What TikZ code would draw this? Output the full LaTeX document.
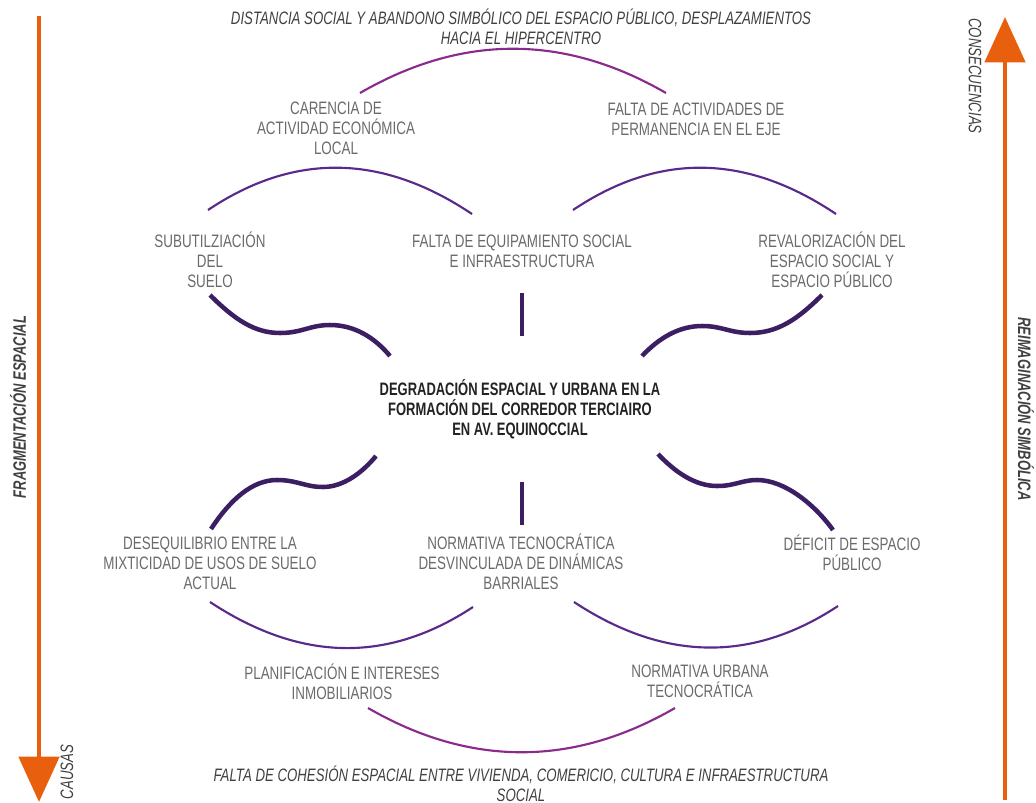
\documentclass[tikz,border=0pt]{standalone}
\usepackage{fontspec}
\setmainfont{Liberation Sans}[FakeStretch=0.745, ItalicFeatures={FakeStretch=0.735}, BoldFeatures={FakeStretch=0.72}, BoldItalicFeatures={FakeStretch=0.72}]
\usetikzlibrary{arrows.meta}
\definecolor{orangeC}{HTML}{E8600E}
\definecolor{grayT}{HTML}{6A6A6A}
\definecolor{darkT}{HTML}{404040}
\definecolor{centT}{HTML}{222222}
\definecolor{waveC}{HTML}{3C1F63}
\definecolor{arcC}{HTML}{5A2A8A}
\definecolor{outerC}{HTML}{8A2A8C}
\begin{document}
\begin{tikzpicture}[x=0.75pt,y=-0.75pt,
  lbl/.style={font=\fontsize{13.5}{15}\selectfont, text=grayT, align=center, inner sep=0pt, anchor=base},
  itl/.style={lbl, text=darkT, font=\fontsize{13.5}{15}\selectfont\itshape},
  ctr/.style={lbl, text=centT, font=\fontsize{13.5}{15}\selectfont\bfseries},
  side/.style={inner sep=0pt, text=darkT, font=\fontsize{13.5}{15}\selectfont\bfseries\itshape},
  sidel/.style={inner sep=0pt, text=darkT, font=\fontsize{13.5}{15}\selectfont\itshape},
  axisarrow/.style={draw=orangeC, line width=3.6pt, -{Triangle[length=34pt,width=30pt]}},
  wave/.style={draw=waveC, line width=3.4pt},
  bar/.style={draw=waveC, line width=3pt},
  arcin/.style={draw=arcC, line width=1.6pt},
  arcout/.style={draw=outerC, line width=1.6pt}]
\useasboundingbox (0,0) rectangle (1036,803);

% axes
\coordinate (lA) at (39,16);
\coordinate (lB) at (39,802);
\coordinate (rA) at (1005,800);
\coordinate (rB) at (1005,17);
\draw[axisarrow] (lA) -- (lB);
\draw[axisarrow] (rA) -- (rB);

\node[side, rotate=90] (fragm) at (18,407) {FRAGMENTACIÓN ESPACIAL};
\node[side, rotate=-90] (reimag) at (1026,409) {REIMAGINACIÓN SIMBÓLICA};
\node[sidel, rotate=-90] (consec) at (975,76) {CONSECUENCIAS};
\node[sidel, rotate=90] (causas) at (67,772) {CAUSAS};

% texts (base anchor = baseline of last line)
\node[itl] (ttop) at (521,44.5) {DISTANCIA SOCIAL Y ABANDONO SIMBÓLICO DEL ESPACIO PÚBLICO, DESPLAZAMIENTOS\\HACIA EL HIPERCENTRO};
\node[lbl] (carencia) at (336,154.5) {CARENCIA DE\\ACTIVIDAD ECONÓMICA\\LOCAL};
\node[lbl] (faltaact) at (696,135) {FALTA DE ACTIVIDADES DE\\PERMANENCIA EN EL EJE};
\node[lbl] (subut) at (210,287.5) {SUBUTILZIACIÓN\\DEL\\SUELO};
\node[lbl] (equip) at (522,267.5) {FALTA DE EQUIPAMIENTO SOCIAL\\E INFRAESTRUCTURA};
\node[lbl] (reval) at (832,287.5) {REVALORIZACIÓN DEL\\ESPACIO SOCIAL Y\\ESPACIO PÚBLICO};
\node[ctr] (centro) at (520,435.5) {DEGRADACIÓN ESPACIAL Y URBANA EN LA\\FORMACIÓN DEL CORREDOR TERCIAIRO\\EN AV. EQUINOCCIAL};
\node[lbl] (deseq) at (210,589.5) {DESEQUILIBRIO ENTRE LA\\MIXTICIDAD DE USOS DE SUELO\\ACTUAL};
\node[lbl] (normtec) at (521,589.5) {NORMATIVA TECNOCRÁTICA\\DESVINCULADA DE DINÁMICAS\\BARRIALES};
\node[lbl] (deficit) at (852,570) {DÉFICIT DE ESPACIO\\PÚBLICO};
\node[lbl] (planif) at (342,699) {PLANIFICACIÓN E INTERESES\\INMOBILIARIOS};
\node[lbl] (normurb) at (700,697) {NORMATIVA URBANA\\TECNOCRÁTICA};
\node[itl] (tbot) at (521,801) {FALTA DE COHESIÓN ESPACIAL ENTRE VIVIENDA, COMERICIO, CULTURA E INFRAESTRUCTURA\\SOCIAL};

% arc end points
\coordinate (a1s) at (360,93);  \coordinate (a1e) at (666,93);
\coordinate (a2s) at (208,210); \coordinate (a2e) at (472,214);
\coordinate (a3s) at (573,210); \coordinate (a3e) at (836,214);
\coordinate (a4s) at (210,602); \coordinate (a4e) at (473,607);
\coordinate (a5s) at (574,602); \coordinate (a5e) at (838,606);
\coordinate (a6s) at (368,708); \coordinate (a6e) at (675,708);

\draw[arcout] (a1s) .. controls (462,34) and (564,34) .. (a1e);
\draw[arcin] (a2s) .. controls (296,151) and (384,155) .. (a2e);
\draw[arcin] (a3s) .. controls (661,151) and (748,155) .. (a3e);
\draw[arcin] (a4s) .. controls (298,660) and (385,665) .. (a4e);
\draw[arcin] (a5s) .. controls (662,660) and (750,664) .. (a5e);
\draw[arcout] (a6s) .. controls (470,767) and (573,767) .. (a6e);

% waves
\coordinate (w1s) at (210,295); \coordinate (w1e) at (390,356);
\coordinate (w2s) at (642,356); \coordinate (w2e) at (822,295);
\coordinate (w3s) at (211,529); \coordinate (w3e) at (376,456);
\coordinate (w4s) at (658,454); \coordinate (w4e) at (833,530);

\draw[wave] (w1s) .. controls (235,320) and (255,333) .. (280,333)
  .. controls (302,333) and (310,325) .. (330,325)
  .. controls (355,325) and (375,338) .. (w1e);
\draw[wave] (w2s) .. controls (659,338) and (679,326) .. (702,326)
  .. controls (722,326) and (730,333) .. (750,333)
  .. controls (777,333) and (797,320) .. (w2e);
\draw[wave] (w3s) .. controls (230,500) and (252,480) .. (277,480)
  .. controls (297,480) and (305,487) .. (323,487)
  .. controls (343,487) and (362,473) .. (w3e);
\draw[wave] (w4s) .. controls (675,472) and (695,486) .. (717,486)
  .. controls (735,486) and (742,480) .. (757,480)
  .. controls (785,480) and (815,505) .. (w4e);

% bars
\coordinate (b1s) at (522,293); \coordinate (b1e) at (522,336);
\coordinate (b2s) at (522,482); \coordinate (b2e) at (522,525);
\draw[bar] (b1s) -- (b1e);
\draw[bar] (b2s) -- (b2e);
\end{tikzpicture}
\end{document}
